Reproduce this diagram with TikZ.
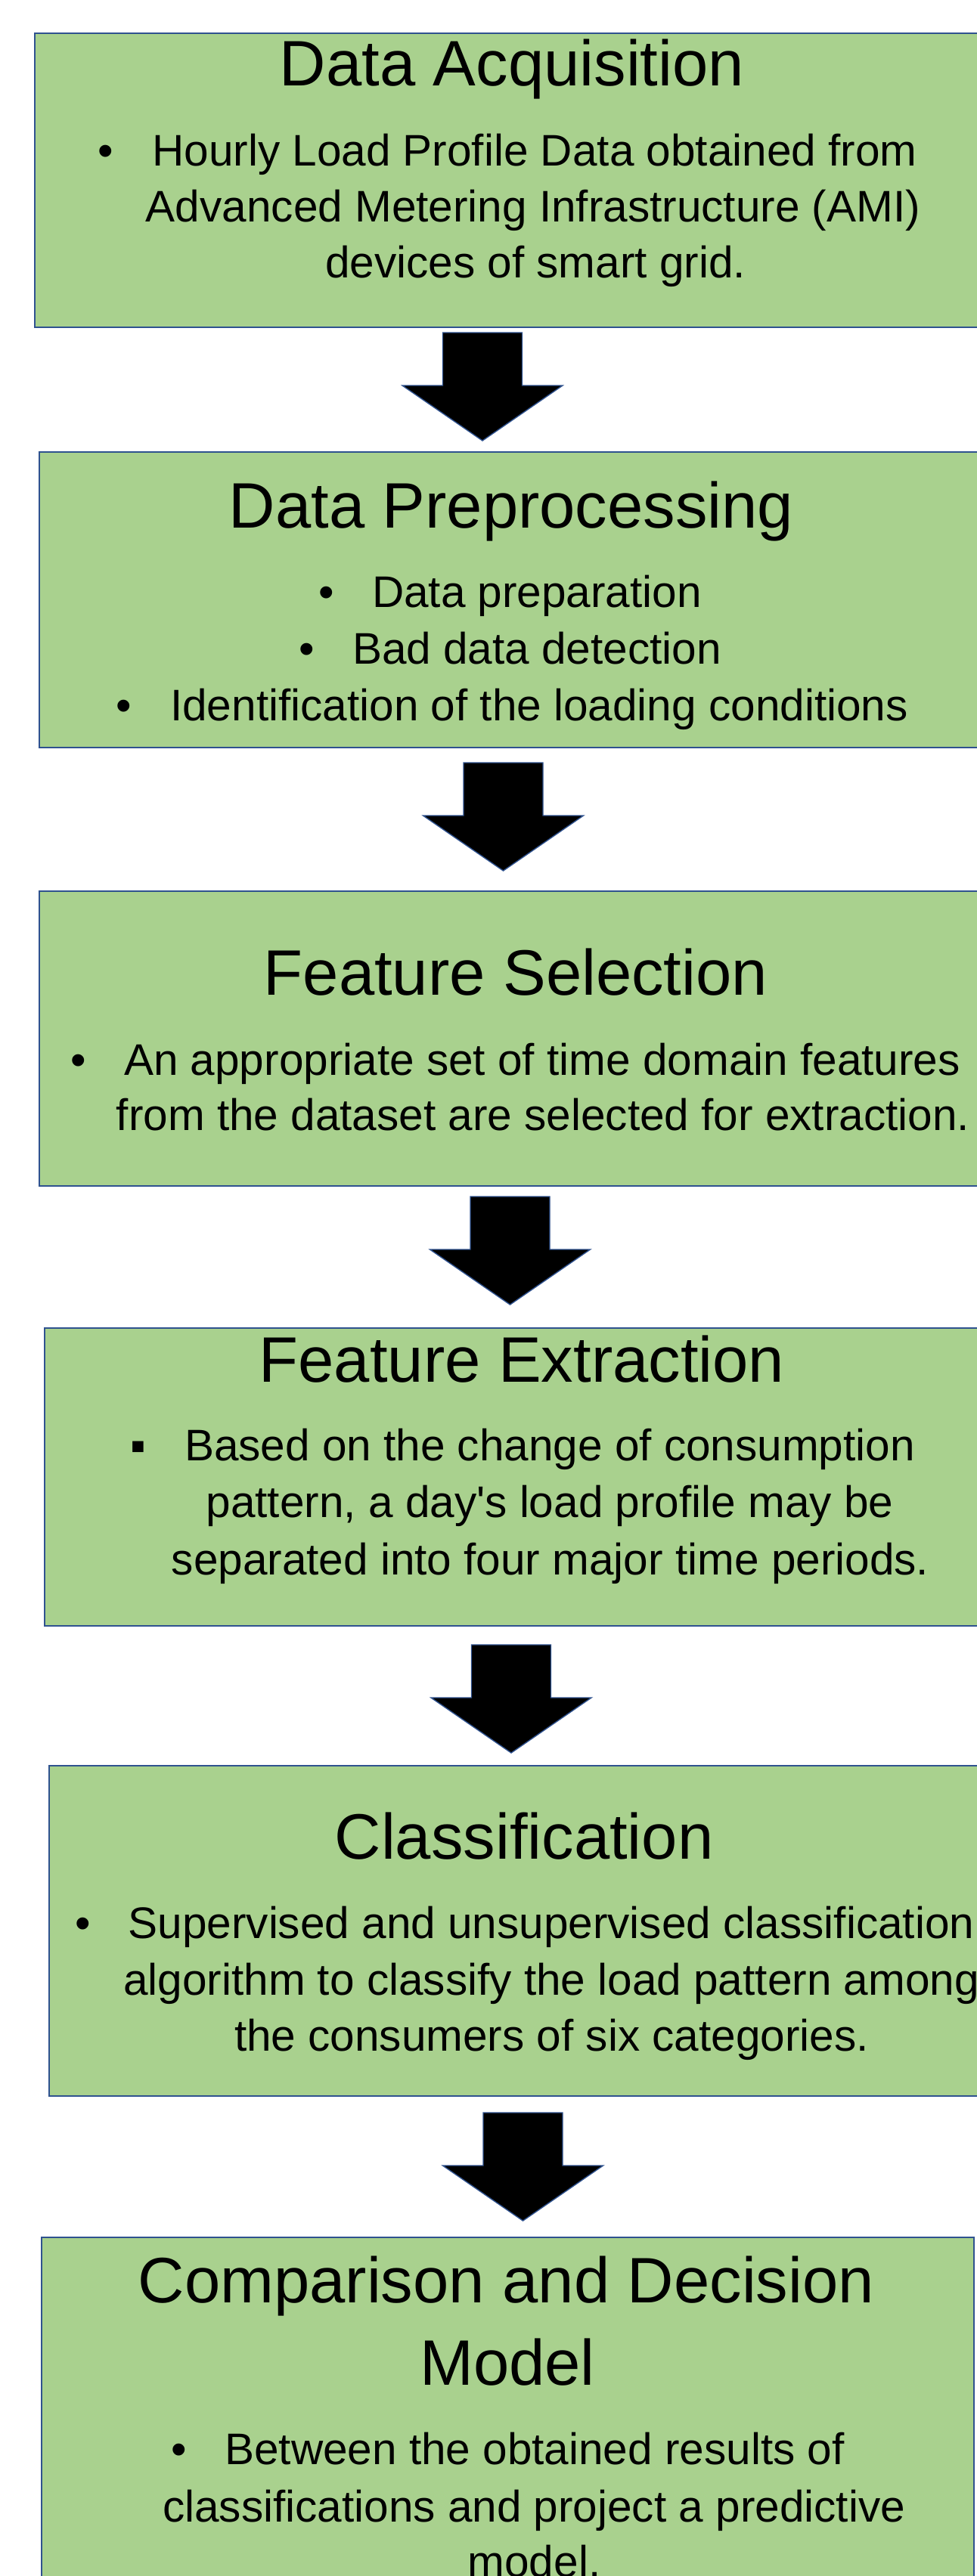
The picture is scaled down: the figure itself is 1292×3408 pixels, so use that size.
\documentclass[tikz,border=0pt]{standalone}
\usepackage{fontspec}
\setmainfont{Liberation Sans}
\definecolor{boxgreen}{HTML}{A9D18E}
\definecolor{boxblue}{HTML}{2F528F}
\tikzset{
  stagebox/.style={draw=boxblue, line width=2.2pt, fill=boxgreen, rectangle, inner sep=0pt, anchor=north west},
  titletext/.style={anchor=base, inner sep=0pt, font=\fontsize{85}{100}\selectfont},
  bodytext/.style={anchor=base, inner sep=0pt, font=\fontsize{58.5}{70}\selectfont},
  bulletmark/.style={anchor=base, inner sep=0pt, font=\fontsize{58.5}{70}\selectfont},
  blockarrow/.pic={
    \path[fill=black, draw=boxblue, line width=1.4pt, line join=miter]
      (-52.5,0) -- (52.5,0) -- (52.5,70) -- (106,70) -- (0,143) -- (-106,70) -- (-52.5,70) -- cycle;
  }
}
\begin{document}
\begin{tikzpicture}[x=1pt,y=-1pt]
\useasboundingbox (0,0) rectangle (1292,3408);
\fill[white] (0,0) rectangle (1292,3408);

% stage boxes
\node[stagebox, minimum width=1270pt, minimum height=389pt] (b1) at (45,43) {};
\node[stagebox, minimum width=1270pt, minimum height=391pt] (b2) at (51,597) {};
\node[stagebox, minimum width=1270pt, minimum height=390pt] (b3) at (51,1178) {};
\node[stagebox, minimum width=1270pt, minimum height=394pt] (b4) at (58,1756) {};
\node[stagebox, minimum width=1270pt, minimum height=437pt] (b5) at (64,2335) {};
\node[stagebox, minimum width=1233pt, minimum height=480pt] (b6) at (54,2959) {};

% block arrows between stages
\pic (a1) at (638,440) {blockarrow};
\pic (a2) at (665.5,1009) {blockarrow};
\pic (a3) at (674.5,1583) {blockarrow};
\pic (a4) at (676,2176) {blockarrow};
\pic (a5) at (691.5,2795) {blockarrow};

% Box 1
\node[titletext] (t1) at (677,113) {Data Acquisition};
\node[bodytext] (b1l1) at (707,219) {Hourly Load Profile Data obtained from};
\node[bodytext] (b1l2) at (705,293) {Advanced Metering Infrastructure (AMI)};
\node[bodytext] (b1l3) at (708,367) {devices of smart grid.};
\node[bulletmark] (b1d) at ([xshift=-61pt]b1l1.base west) {•};

% Box 2
\node[titletext] (t2) at (676,698) {Data Preprocessing};
\node[bodytext] (b2l1) at (710,803) {Data preparation};
\node[bodytext] (b2l2) at (710,878) {Bad data detection};
\node[bodytext] (b2l3) at (713,953) {Identification of the loading conditions};
\node[bulletmark] (b2d1) at ([xshift=-60pt]b2l1.base west) {•};
\node[bulletmark] (b2d2) at ([xshift=-60pt]b2l2.base west) {•};
\node[bulletmark] (b2d3) at ([xshift=-61pt]b2l3.base west) {•};

% Box 3
\node[titletext] (t3) at (682,1316) {Feature Selection};
\node[bodytext] (b3l1) at (717,1422) {An appropriate set of time domain features};
\node[bodytext] (b3l2) at (718,1495) {from the dataset are selected for extraction.};
\node[bulletmark] (b3d) at ([xshift=-60pt]b3l1.base west) {•};

% Box 4
\node[titletext] (t4) at (690,1828) {Feature Extraction};
\node[bodytext] (b4l1) at (727,1932) {Based on the change of consumption};
\node[bodytext] (b4l2) at (727,2007) {pattern, a day\textquotesingle s load profile may be};
\node[bodytext] (b4l3) at (727.5,2083) {separated into four major time periods.};
\node[bulletmark] (b4d) at ([xshift=-61pt]b4l1.base west) {▪};

% Box 5
\node[titletext] (t5) at (693,2459) {Classification};
\node[bodytext] (b5l1) at (729,2564) {Supervised and unsupervised classification};
\node[bodytext] (b5l2) at (729,2639) {algorithm to classify the load pattern among};
\node[bodytext] (b5l3) at (729.5,2713) {the consumers of six categories.};
\node[bulletmark] (b5d) at ([xshift=-60pt]b5l1.base west) {•};

% Box 6
\node[titletext] (t6a) at (669.5,3046) {Comparison and Decision};
\node[titletext] (t6b) at (671,3155) {Model};
\node[bodytext] (b6l1) at (707,3260) {Between the obtained results of};
\node[bodytext] (b6l2) at (706,3336) {classifications and project a predictive};
\node[bodytext] (b6l3) at (706.5,3409) {model.};
\node[bulletmark] (b6d) at ([xshift=-60pt]b6l1.base west) {•};
\end{tikzpicture}
\end{document}
